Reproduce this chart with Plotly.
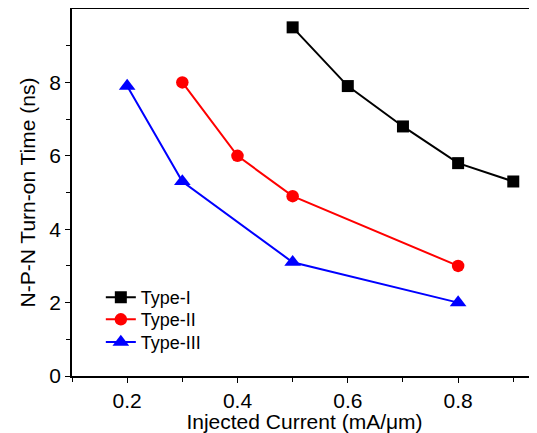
import plotly.graph_objects as go

x_type1 = [0.5, 0.6, 0.7, 0.8, 0.9]
y_type1 = [9.5, 7.9, 6.8, 5.8, 5.3]
x_type2 = [0.3, 0.4, 0.5, 0.8]
y_type2 = [8.0, 6.0, 4.9, 3.0]
x_type3 = [0.2, 0.3, 0.5, 0.8]
y_type3 = [7.9, 5.3, 3.1, 2.0]
names = ["Type-I", "Type-II", "Type-III"]
x_ticks = [0.2, 0.4, 0.6, 0.8]
x_minor = [0.1, 0.3, 0.5, 0.7, 0.9]
y_ticks = [0, 2, 4, 6, 8]
y_minor = [1, 3, 5, 7, 9]

fig = go.Figure()
fig.add_trace(go.Scatter(x=x_type1, y=y_type1, name=names[0], mode="lines+markers",
                         line=dict(color="black", width=2), legend="legend",
                         marker=dict(symbol="square", size=12, color="black")))
fig.add_trace(go.Scatter(x=x_type2, y=y_type2, name=names[1], mode="lines+markers",
                         line=dict(color="#ff0000", width=2), legend="legend2",
                         marker=dict(symbol="circle", size=12.5, color="#ff0000")))
fig.add_trace(go.Scatter(x=x_type3, y=y_type3, name=names[2], mode="lines+markers",
                         line=dict(color="#0000ff", width=2), legend="legend3",
                         marker=dict(symbol="triangle-up", size=14.5, color="#0000ff")))

font = "Liberation Sans, Arial, sans-serif"
leg = dict(x=0.062, xanchor="left", yanchor="top", font=dict(size=18),
           bgcolor="rgba(0,0,0,0)", itemsizing="trace")
# the page body has an 8px margin; figure size/margins compensate for it
fig.update_layout(
    width=529, height=425,
    margin=dict(l=64, r=0, t=1, b=57, autoexpand=False),
    plot_bgcolor="white", paper_bgcolor="white",
    font=dict(family=font, size=21, color="black"),
    showlegend=True,
    legend=dict(leg, y=0.264),
    legend2=dict(leg, y=0.204),
    legend3=dict(leg, y=0.142),
    xaxis=dict(range=[0.1, 0.943], tickvals=x_ticks, ticktext=[str(v) for v in x_ticks],
               ticks="outside", ticklen=5, tickwidth=1, tickcolor="black",
               minor=dict(tickvals=x_minor, ticks="outside", ticklen=4, tickcolor="black"),
               showline=True, linecolor="black", linewidth=1.5, mirror=True,
               showgrid=False, zeroline=False, automargin=False,
               title=dict(text="Injected Current (mA/μm)", font=dict(size=21), standoff=3),
               tickfont=dict(size=21)),
    yaxis=dict(range=[0, 10], tickvals=y_ticks,
               ticks="outside", ticklen=5, tickwidth=1, tickcolor="black",
               minor=dict(tickvals=y_minor, ticks="outside", ticklen=4, tickcolor="black"),
               showline=True, linecolor="black", linewidth=1.8, mirror=False,
               showgrid=False, zeroline=False, automargin=False,
               title=dict(text="N-P-N Turn-on Time (ns)", font=dict(size=21), standoff=8),
               tickfont=dict(size=21)),
)

fig.write_html("out.html")
